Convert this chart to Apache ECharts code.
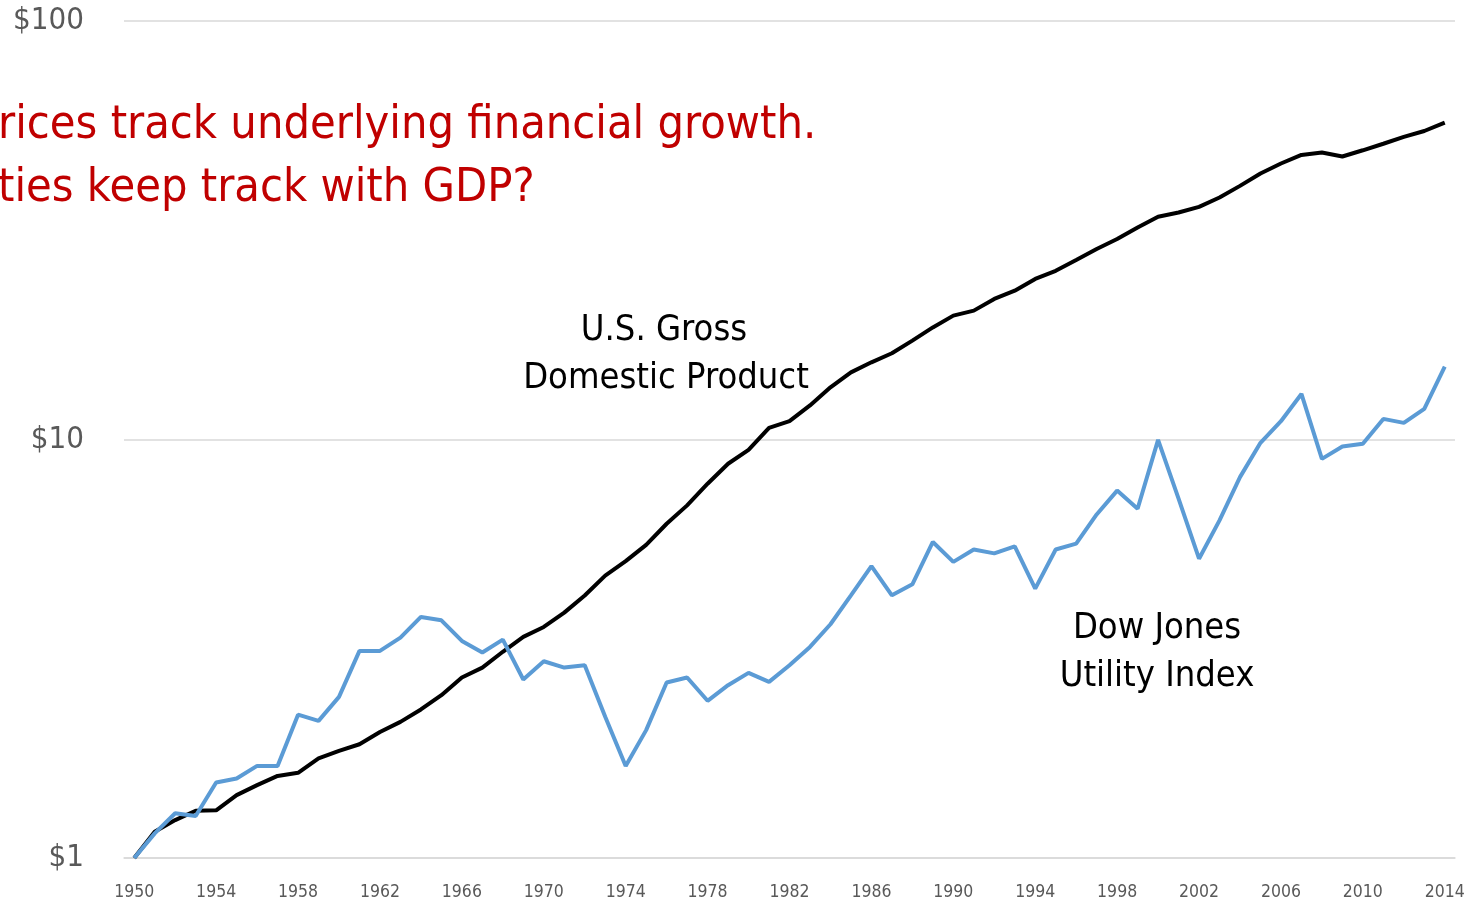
<!DOCTYPE html>
<html>
<head>
<meta charset="utf-8">
<script src="https://cdn.jsdelivr.net/npm/echarts@6/dist/echarts.min.js"></script>
<style>
html,body{margin:0;padding:0;background:#fff;}
#main{width:1470px;height:903px;}
</style>
</head>
<body>
<div id="main"></div>
<script>
const years = [];
for (let y = 1950; y <= 2014; y++) years.push(String(y));

const gdp = [1.00,1.155,1.232,1.297,1.30,1.413,1.493,1.571,1.598,1.73,
  1.803,1.87,2.00,2.115,2.264,2.449,2.70,2.851,3.11,3.375,
  3.565,3.857,4.24,4.73,5.12,5.60,6.29,6.96,7.84,8.75,
  9.45,10.66,11.06,12.06,13.33,14.47,15.29,16.07,17.23,18.53,
  19.77,20.32,21.67,22.68,24.19,25.3,26.85,28.52,30.13,32.1,
  34.06,34.86,35.97,37.86,40.37,43.22,45.65,47.86,48.5,47.45,
  49.1,50.9,52.85,54.6,57.2];

const utility = [1.00,1.145,1.279,1.26,1.515,1.549,1.66,1.66,2.20,2.127,
  2.426,3.125,3.125,3.363,3.767,3.698,3.301,3.097,3.326,2.67,
  2.952,2.851,2.888,2.174,1.658,2.021,2.626,2.70,2.375,2.588,
  2.769,2.635,2.888,3.194,3.619,4.243,4.985,4.243,4.508,5.69,
  5.10,5.46,5.345,5.554,4.402,5.46,5.64,6.62,7.55,6.83,
  9.98,7.22,5.19,6.41,8.13,9.82,11.06,12.85,8.99,9.62,
  9.77,11.20,10.96,11.84,14.94];

const yTickLabels = {1:'$1', 10:'$10', 100:'$100'};
const titleLines = ['rices track underlying financial growth.', 'ties keep track with GDP?'];
const gdpLabel = ['U.S. Gross', 'Domestic Product'];
const utilLabel = ['Dow Jones', 'Utility Index'];

const narrow = "'Liberation Sans Narrow','DejaVu Sans Condensed','Open Sans',sans-serif";
const chart = echarts.init(document.getElementById('main'));
chart.setOption({
  animation: false,
  backgroundColor: '#ffffff',
  grid: {left: 124, right: 15, top: 21, bottom: 45, containLabel: false},
  xAxis: {
    type: 'category',
    data: years,
    boundaryGap: true,
    axisLine: {show: true, lineStyle: {color: '#D9D9D9', width: 1.5}},
    axisTick: {show: false},
    axisLabel: {interval: 3, color: '#595959', fontSize: 17.5, fontFamily: narrow, margin: 25}
  },
  yAxis: {
    type: 'log',
    logBase: 10,
    min: 1,
    max: 100,
    axisLine: {show: false},
    axisTick: {show: false},
    splitLine: {show: true, lineStyle: {color: '#D9D9D9', width: 1.5}},
    axisLabel: {
      color: '#595959', fontSize: 31, fontFamily: narrow, margin: 40,
      formatter: v => yTickLabels[Math.round(v)] || ''
    }
  },
  series: [
    {name: 'U.S. Gross Domestic Product', type: 'line', data: gdp, symbol: 'none',
     lineStyle: {color: '#000000', width: 4}, z: 3},
    {name: 'Dow Jones Utility Index', type: 'line', data: utility, symbol: 'none',
     lineStyle: {color: '#5B9BD5', width: 4}, z: 4}
  ],
  graphic: [
    {type: 'text', left: -2, top: 102, style: {text: titleLines[0], fill: '#C00000', font: "46.5px " + narrow}},
    {type: 'text', left: -2, top: 165, style: {text: titleLines[1], fill: '#C00000', font: "46.5px " + narrow}},
    {type: 'text', x: 664, y: 331, style: {text: gdpLabel[0], fill: '#000', font: "36px " + narrow, textAlign: 'center', textVerticalAlign: 'middle'}},
    {type: 'text', x: 666, y: 379, style: {text: gdpLabel[1], fill: '#000', font: "36px " + narrow, textAlign: 'center', textVerticalAlign: 'middle'}},
    {type: 'text', x: 1157, y: 629, style: {text: utilLabel[0], fill: '#000', font: "36px " + narrow, textAlign: 'center', textVerticalAlign: 'middle'}},
    {type: 'text', x: 1157, y: 677, style: {text: utilLabel[1], fill: '#000', font: "36px " + narrow, textAlign: 'center', textVerticalAlign: 'middle'}}
  ]
});
</script>
</body>
</html>
